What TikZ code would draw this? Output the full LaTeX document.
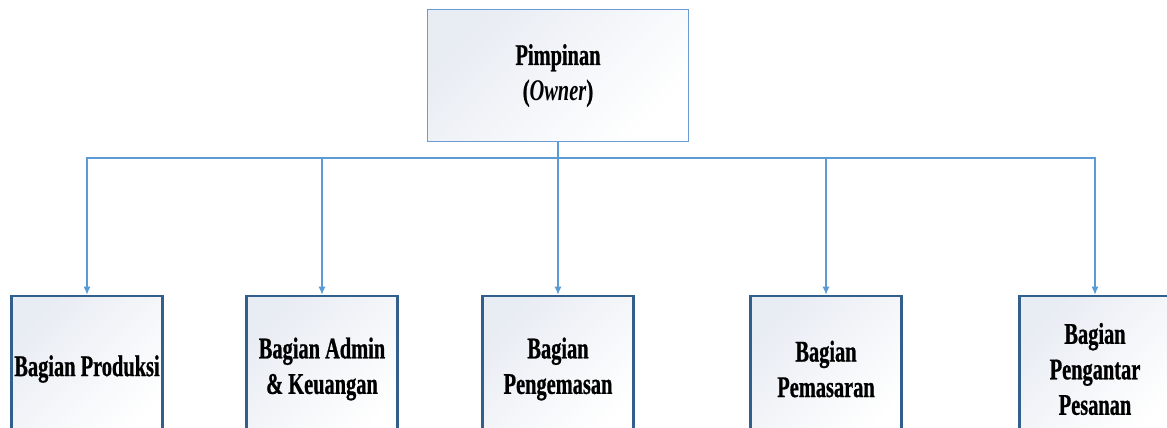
\documentclass[tikz,border=0pt]{standalone}
\usepackage{fontspec}
\setmainfont{Liberation Serif}
\newfontfamily\condserif[FakeStretch=0.68, BoldFeatures={FakeBold=0.8}]{Liberation Serif}
\usetikzlibrary{arrows.meta}
\definecolor{connblue}{HTML}{5B9BD5}
\definecolor{topborder}{HTML}{6B9BD2}
\definecolor{darkborder}{HTML}{335F8C}
\definecolor{shadegray}{HTML}{E8ECF3}
\tikzset{
  x=1pt, y=1pt,
  txt/.style={font=\condserif\bfseries\fontsize{30}{35.5}\selectfont, align=center, text=black},
  headbox/.style={txt, draw=topborder, line width=1.2pt, top color=shadegray, bottom color=white, shading angle=45, minimum width=261, minimum height=132, inner sep=0pt},
  unitbox/.style={txt, draw=darkborder, line width=2.6pt, top color=shadegray, bottom color=white, shading angle=45, minimum width=151, minimum height=146, inner sep=0pt},
  conn/.style={draw=connblue, line width=1.3pt},
  arr/.style={conn, -{Latex[length=8pt,width=7pt]}}
}
\begin{document}
\begin{tikzpicture}
\useasboundingbox (0,0) rectangle (1167,-428);
\begin{scope}
\clip (0,0) rectangle (1167,-428);
\node[headbox] (top) at (558,-75.5) {Pimpinan\\(\textit{Owner})};
\node[unitbox] (b1) at (87,-369) {Bagian Produksi};
\node[unitbox] (b2) at (322,-369) {Bagian Admin\\\& Keuangan};
\node[unitbox] (b3) at (558,-369) {Bagian\\Pengemasan};
\node[unitbox] (b4) at (826,-369) {Bagian\\Pemasaran};
\node[unitbox] (b5) at (1095,-369) {Bagian\\Pengantar\\Pesanan};
\coordinate (bus) at (558,-158);
\draw[conn] (top.south) -- (bus);
\draw[arr] (bus) -| (b1.north);
\draw[arr] (bus) -| (b2.north);
\draw[arr] (bus) -- (b3.north);
\draw[arr] (bus) -| (b4.north);
\draw[arr] (bus) -| (b5.north);
\end{scope}
\end{tikzpicture}
\end{document}
